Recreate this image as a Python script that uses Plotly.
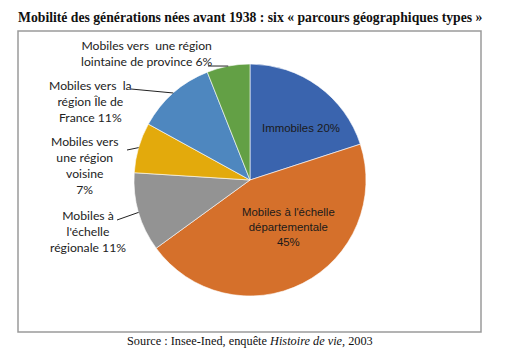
import math
import plotly.graph_objects as go

categories = [
    "Immobiles",
    "Mobiles à l'échelle départementale",
    "Mobiles à l'échelle régionale",
    "Mobiles vers une région voisine",
    "Mobiles vers la région Île de France",
    "Mobiles vers une région lointaine de province",
]
values = [20, 45, 11, 7, 11, 6]
label_texts = [
    "Immobiles 20%",
    "Mobiles à l'échelle<br>départementale<br>45%",
    "Mobiles à<br>l'échelle<br>régionale 11%",
    "Mobiles vers<br>une région<br>voisine<br>7%",
    "Mobiles vers\u00a0 la<br>région Île de<br>France 11%",
    "Mobiles vers\u00a0 une région<br>lointaine de province 6%",
]
colors = ["#3A64AE", "#D5702B", "#939393", "#E3AA0C", "#4E87BF", "#63A045"]

W, H = 506, 364
CX, CY, R = 250, 180, 116

def px(x):
    return x / W

def py(y):
    return 1 - y / H

fig = go.Figure(go.Pie(
    labels=categories, values=values, sort=False, direction="clockwise",
    rotation=0, textinfo="none", hoverinfo="label+percent",
    marker=dict(colors=colors, line=dict(color="white", width=0.6)),
    domain=dict(x=[px(CX - R), px(CX + R)], y=[py(CY + R), py(CY - R)]),
    showlegend=False,
))

# label placements (layout): center of text block in pixels, inside flag, leader start
label_pos = [
    (301, 128, True, None),
    (288, 227, True, None),
    (88, 231, False, (117, 220)),
    (84, 166, False, (127, 150)),
    (90, 101, False, (131, 89)),
    (147, 53, False, (208, 66)),
]

annotations = []
shapes = []
total = sum(values)
cum = 0
for i, v in enumerate(values):
    mid = (cum + v / 2) / total * 2 * math.pi
    cum += v
    lx, ly, inside, start = label_pos[i]
    if inside:
        annotations.append(dict(
            x=px(lx), y=py(ly), xref="paper", yref="paper", text=label_texts[i],
            showarrow=False, font=dict(family="Liberation Sans, Arial", size=11.4, color="#1a1a1a"),
            align="center", xanchor="center", yanchor="middle"))
    else:
        annotations.append(dict(
            x=px(lx), y=py(ly), xref="paper", yref="paper", text=label_texts[i],
            showarrow=False, font=dict(family="Lato, Carlito, sans-serif", size=12.2, color="#222222"),
            align="center", xanchor="center", yanchor="middle"))
        ex = CX + R * math.sin(mid)
        ey = CY - R * math.cos(mid)
        shapes.append(dict(type="line", xref="paper", yref="paper",
                           x0=px(start[0]), y0=py(start[1]), x1=px(ex), y1=py(ey),
                           line=dict(color="#222222", width=1)))

# frame
shapes.append(dict(type="rect", xref="paper", yref="paper",
                   x0=px(18), y0=py(332), x1=px(481), y1=py(31),
                   line=dict(color="#9A9A9A", width=1.5), layer="below"))

annotations.append(dict(
    x=px(250), y=py(17), xref="paper", yref="paper",
    text="<b>Mobilité des générations nées avant 1938 : six « parcours géographiques types »</b>",
    showarrow=False, font=dict(family="Liberation Serif, Times New Roman, serif", size=13.7, color="#111111"),
    xanchor="center", yanchor="middle"))
annotations.append(dict(
    x=px(250), y=py(341), xref="paper", yref="paper",
    text="Source : Insee-Ined, enquête <i>Histoire de vie</i>, 2003",
    showarrow=False, font=dict(family="Liberation Serif, Times New Roman, serif", size=12.3, color="#111111"),
    xanchor="center", yanchor="middle"))

fig.update_layout(
    width=W, height=H, margin=dict(l=0, r=0, t=0, b=0),
    paper_bgcolor="white", plot_bgcolor="white",
    annotations=annotations, shapes=shapes,
)

fig.write_html("out.html", config={"displayModeBar": False},
               post_script="document.body.style.margin='0';")
